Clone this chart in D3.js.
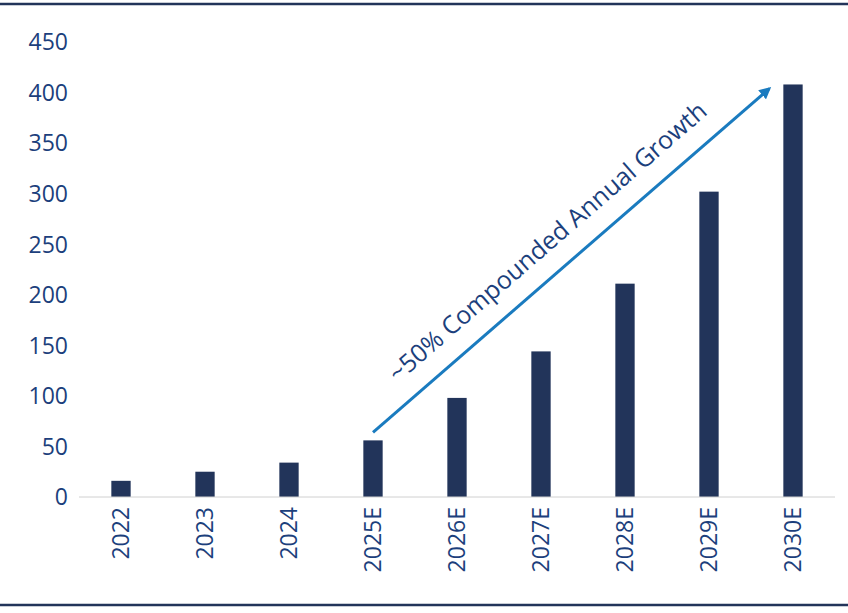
<!DOCTYPE html>
<html>
<head>
<meta charset="utf-8">
<script src="https://cdn.jsdelivr.net/npm/d3@7"></script>
<style>
  body { margin: 0; background: #fff; }
  text { font-family: "Open Sans", "Noto Sans", sans-serif; }
</style>
</head>
<body>
<svg id="chart" width="848" height="613"></svg>
<script>
let years = ['2022', '2023', '2024', '2025E', '2026E', '2027E', '2028E', '2029E', '2030E']
let values = [16, 25, 34, 56, 98, 144, 211, 302, 408]
let yTicks = [0, 50, 100, 150, 200, 250, 300, 350, 400, 450]
let growthLabel = '~50% Compounded Annual Growth'

let navy = '#22345a', textBlue = '#1c3f7c', arrowBlue = '#1a7bbf'

let svg = d3.select('#chart')

let x = d3.scaleBand().domain(years).range([79, 835]).paddingInner(0.77).paddingOuter(0.385)
let y = d3.scaleLinear().domain([0, 450]).range([497, 42])

// frame lines
svg.append('line').attr('x1', 0).attr('x2', 848).attr('y1', 4).attr('y2', 4)
  .attr('stroke', navy).attr('stroke-width', 2.5)
svg.append('line').attr('x1', 0).attr('x2', 848).attr('y1', 605).attr('y2', 605)
  .attr('stroke', navy).attr('stroke-width', 2.5)

// y labels
svg.selectAll('.ytick').data(yTicks).enter().append('text')
  .attr('x', 68).attr('y', d => y(d)).attr('dy', '0.36em')
  .attr('text-anchor', 'end').attr('fill', textBlue).attr('font-size', 23)
  .text(d => d)

// bars
svg.selectAll('.bar').data(values).enter().append('rect')
  .attr('x', (d, i) => x(years[i])).attr('width', x.bandwidth())
  .attr('y', d => y(d)).attr('height', d => y(0) - y(d))
  .attr('fill', navy)

// baseline
svg.append('line').attr('x1', 79).attr('x2', 835).attr('y1', y(0)).attr('y2', y(0))
  .attr('stroke', '#d0d0d0').attr('stroke-width', 1)

// x labels
svg.selectAll('.xlab').data(years).enter().append('text')
  .attr('transform', d => `translate(${x(d) + x.bandwidth() / 2 + 8},507) rotate(-90)`)
  .attr('text-anchor', 'end').attr('fill', textBlue).attr('font-size', 23)
  .text(d => d)

// growth arrow
let defs = svg.append('defs')
defs.append('marker').attr('id', 'head').attr('viewBox', '0 0 10 10')
  .attr('refX', 8).attr('refY', 5).attr('markerWidth', 4).attr('markerHeight', 4)
  .attr('orient', 'auto')
  .append('path').attr('d', 'M0,0L10,5L0,10Z').attr('fill', arrowBlue)

let x0 = x('2025E') + x.bandwidth() / 2, y0 = y(64)
let x1 = x('2030E') - 14, y1 = y(404)
svg.append('line').attr('x1', x0).attr('y1', y0).attr('x2', x1).attr('y2', y1)
  .attr('stroke', arrowBlue).attr('stroke-width', 3).attr('marker-end', 'url(#head)')

let ang = Math.atan2(y1 - y0, x1 - x0) * 180 / Math.PI
svg.append('text')
  .attr('transform', `translate(${(x0 + x1) / 2 - 18},${(y0 + y1) / 2 - 12}) rotate(${ang})`)
  .attr('text-anchor', 'middle').attr('fill', textBlue).attr('font-size', 25)
  .text(growthLabel)
</script>
</body>
</html>
